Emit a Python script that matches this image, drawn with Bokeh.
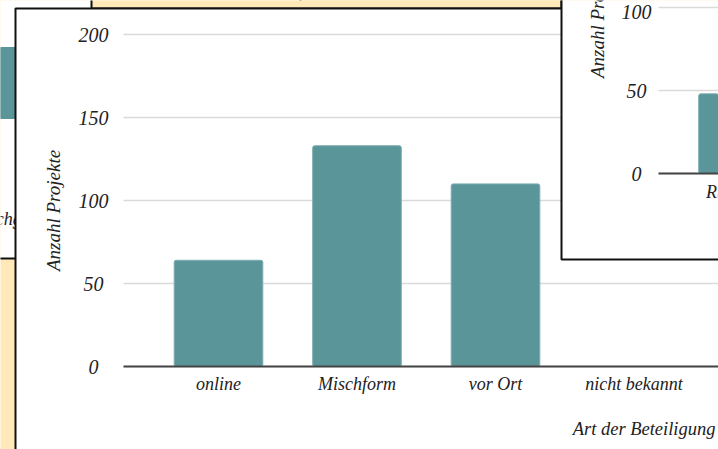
import math

from bokeh.core.properties import value
from bokeh.embed import file_html
from bokeh.models import FixedTicker, LinearAxis, Range1d
from bokeh.plotting import figure
from bokeh.resources import INLINE

# ---- data -------------------------------------------------------------
categories = ["online", "Mischform", "vor Ort", "nicht bekannt"]
projects = [64, 133, 110, 0]
y_ticks = [0, 50, 100, 150, 200]

side_categories = ["Rundgang"]
side_projects = [48]
side_ticks = [0, 50, 100]

left_projects = [40]

x_title = "Art der Beteiligung"
y_title = "Anzahl Projekte"
left_title = "Durchgeführt"

# ---- styling ----------------------------------------------------------
W, H = 718, 449
YELLOW = "#FFE9B8"
WHITE = "#FFFFFF"
INK = "#111111"
TEAL = "#5A9599"
GRID = "#DADADA"
AXIS = "#444444"
TEXT = "#222222"
FONT = value("Liberation Serif")

CAT_PX = 138.5        # width of one category slot
UNIT_PX = 83 / 50     # pixels per project

MAIN_X0, MAIN_Y0, MAIN_LEFT = 218, 366, 123   # category 0 centre, zero line, axis x
SIDE_X0, SIDE_Y0, SIDE_LEFT = 742.5, 173, 658


def cat_range(center_px):
    return Range1d(-center_px / CAT_PX, (W - center_px) / CAT_PX)


def val_range(zero_px):
    return Range1d(-(H - zero_px) / UNIT_PX, zero_px / UNIT_PX)


def to_cat(px, center_px):
    return (px - center_px) / CAT_PX


def centred(tick, widest=3):
    # tick labels are right-aligned by the axis; pad them with figure
    # (digit-wide) and punctuation (half-digit) spaces so they sit centred
    s = str(tick)
    gap = widest - len(s)
    side = "\u2007" * (gap // 2) + ("\u2008" if gap % 2 else "")
    return side + s + side


p = figure(width=W, height=H, output_backend="svg", toolbar_location=None,
           x_range=cat_range(MAIN_X0), y_range=val_range(MAIN_Y0),
           x_axis_type=None, y_axis_type=None, min_border=0)
p.outline_line_color = None
p.background_fill_color = YELLOW
p.border_fill_color = YELLOW
p.extra_x_ranges = {"px": Range1d(0, W), "side": cat_range(SIDE_X0), "left": Range1d(0, 100)}
p.extra_y_ranges = {"px": Range1d(H, 0), "side": val_range(SIDE_Y0)}


def card(left, right, top, bottom, fill):
    p.quad(left=[left], right=[right], top=[top], bottom=[bottom],
           x_range_name="px", y_range_name="px", fill_color=fill,
           line_color=INK, line_width=2, level="image")


def italic_text(x, y, text, size, **kw):
    kw.setdefault("x_range_name", "px")
    kw.setdefault("y_range_name", "px")
    p.text(x=x, y=y, text=text, text_font=FONT, text_font_style="italic",
           text_font_size=size, text_color=TEXT, **kw)


# card behind on the left
card(-20, 300, -20, 258, WHITE)
p.hbar(y=[82.5], height=71, left=0, right=left_projects, x_range_name="left",
       y_range_name="px", color=TEAL, level="image")
italic_text([-33], [218], [left_title], "18px", text_baseline="middle", level="image")

# yellow card at the top
card(91, 561, -20, 8, YELLOW)

# main card
card(15, 740, 8, 470, WHITE)
p.segment(x0=MAIN_LEFT, x1=W + 10, y0=y_ticks, y1=y_ticks, x_range_name="px",
          line_color=GRID, line_width=1.5, level="image")

# card on the right
card(561, 740, -20, 259, WHITE)
p.segment(x0=SIDE_LEFT, x1=W + 10, y0=side_ticks, y1=side_ticks, x_range_name="px",
          y_range_name="side", line_color=GRID, line_width=1.5, level="image")

# bars
p.vbar(x=list(range(len(categories))), top=projects, width=0.64, fill_color=TEAL,
       line_color="#7DAEB1", line_width=1, border_radius=2)
p.vbar(x=list(range(len(side_categories))), top=side_projects, width=0.64,
       fill_color=TEAL, line_color="#7DAEB1", line_width=1, border_radius=2,
       x_range_name="side", y_range_name="side")


def style_axis(ax, size):
    ax.major_tick_line_color = None
    ax.minor_tick_line_color = None
    ax.major_tick_out = 0
    ax.major_tick_in = 0
    ax.major_label_text_font = "Liberation Serif"
    ax.major_label_text_font_style = "italic"
    ax.major_label_text_font_size = size
    ax.major_label_text_color = TEXT


# main axes
xa = LinearAxis(ticker=FixedTicker(ticks=list(range(len(categories)))),
                major_label_overrides={i: c for i, c in enumerate(categories)},
                fixed_location=0,
                bounds=(to_cat(MAIN_LEFT, MAIN_X0), to_cat(W + 10, MAIN_X0)),
                axis_line_color=AXIS, axis_line_width=2, major_label_standoff=7)
style_axis(xa, "18px")
p.add_layout(xa, "below")

ya = LinearAxis(ticker=FixedTicker(ticks=y_ticks), fixed_location=MAIN_LEFT,
                x_range_name="px", axis_line_color=None, major_label_standoff=15,
                major_label_overrides={t: centred(t) for t in y_ticks})
style_axis(ya, "20px")
p.add_layout(ya, "left")

# axes of the right card
sxa = LinearAxis(ticker=FixedTicker(ticks=[]), x_range_name="side",
                 y_range_name="side", fixed_location=0,
                 bounds=(to_cat(SIDE_LEFT, SIDE_X0), to_cat(W + 10, SIDE_X0)),
                 axis_line_color=AXIS, axis_line_width=2)
style_axis(sxa, "18px")
p.add_layout(sxa, "below")
italic_text(list(range(len(side_categories))), [0] * len(side_categories),
            side_categories, "18px", x_range_name="side", y_range_name="side",
            y_offset=8, text_align="center", text_baseline="top")

sya = LinearAxis(ticker=FixedTicker(ticks=side_ticks), fixed_location=SIDE_LEFT,
                 x_range_name="px", y_range_name="side", axis_line_color=None,
                 major_label_standoff=7,
                 major_label_overrides={t: centred(t) for t in side_ticks})
style_axis(sya, "20px")
p.add_layout(sya, "left")

# axis titles
italic_text([53], [210], [y_title], "19px", angle=math.pi / 2, text_align="center",
            text_baseline="middle")
italic_text([597], [17], [y_title], "19px", angle=math.pi / 2, text_align="center",
            text_baseline="middle")
italic_text([715], [428], [x_title], "18.5px", text_align="right",
            text_baseline="alphabetic")

open("out.html", "w").write(file_html(p, INLINE))
